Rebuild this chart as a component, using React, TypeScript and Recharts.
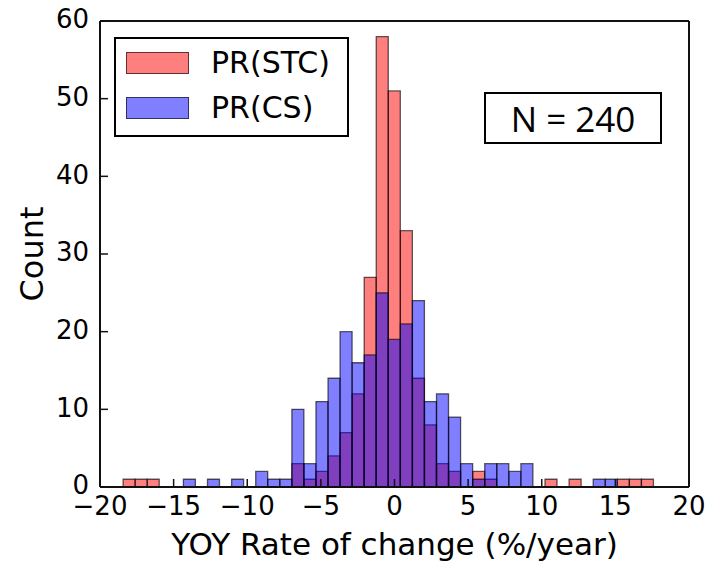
import React from "react";
import { BarChart, Bar, XAxis, YAxis, Legend } from "recharts";

// histogram binning shared by both series
const binStart = -18.43;
const binWidth = 0.8186;

// counts per bin, left to right (44 bins)
const stcCounts = [
  1, 1, 1, 0, 0, 0, 0, 0, 0, 0, 0, 0, 0, 0,
  3, 1, 2, 4, 7, 12, 27, 58, 51, 33, 14, 8, 3, 2,
  0, 2, 1, 0, 0, 0, 0, 1, 0, 1, 0, 0, 0, 1, 1, 1,
];
const csCounts = [
  0, 0, 0, 0, 0, 1, 0, 1, 0, 1, 0, 2, 1, 1,
  10, 3, 11, 14, 20, 16, 17, 25, 19, 21, 24, 11, 12, 9,
  3, 1, 3, 3, 2, 3, 0, 0, 0, 0, 0, 1, 1, 0, 0, 0,
];

const xTicks = [-20, -15, -10, -5, 0, 5, 10, 15, 20];
const yTicks = [0, 10, 20, 30, 40, 50, 60];
const sampleSize = 240;
const seriesOrder = ["stc", "cs"];

const data = stcCounts.map((stc, i) => ({
  rate: +(binStart + (i + 0.5) * binWidth).toFixed(4),
  stc,
  cs: csCounts[i],
}));

const FONT = "DejaVu Sans";
const xTickStyle = { fontSize: 26, fill: "#000", fontFamily: FONT };
const yTickStyle = { ...xTickStyle, dy: -2 };
const axisLine = { stroke: "#111", strokeWidth: 2 };
const tickLine = { stroke: "#111", strokeWidth: 1.5 };
const edge = "rgba(0, 0, 0, 0.62)";

const fmt = (v: number) => (v < 0 ? `\u2212${-v}` : `${v}`);

const renderLegend = (props: any) => {
  // keep the legend in plotting order (Recharts sorts it by name)
  const items = [...props.payload].sort(
    (a: any, b: any) => seriesOrder.indexOf(a.dataKey) - seriesOrder.indexOf(b.dataKey)
  );
  return (
    <div
      style={{
        border: "2px solid #000",
        background: "#fff",
        width: 235,
        height: 100,
        boxSizing: "border-box",
        padding: "1px 0 0 10px",
        fontFamily: FONT,
        fontSize: 30,
        color: "#000",
      }}
    >
      {items.map((entry: any) => (
        <div
          key={entry.value}
          style={{ display: "flex", alignItems: "center", height: 45 }}
        >
          <span
            style={{
              width: 63,
              height: 22,
              boxSizing: "border-box",
              background: entry.color,
              border: `1px solid ${edge}`,
            }}
          />
          <span style={{ marginLeft: 22 }}>{entry.value}</span>
        </div>
      ))}
    </div>
  );
};

export default function App() {
  return (
    <div style={{ position: "absolute", left: 0, top: 0, width: 710, height: 562 }}>
      <BarChart
        width={710}
        height={562}
        data={data}
        margin={{ top: 20, right: 20, left: 0, bottom: 0 }}
        barCategoryGap={0}
        barGap={0}
      >
        <XAxis
          xAxisId="bottom"
          dataKey="rate"
          type="number"
          domain={[-20, 20]}
          ticks={xTicks}
          tickFormatter={fmt}
          tick={xTickStyle}
          tickSize={-8}
          tickMargin={18}
          axisLine={axisLine}
          tickLine={tickLine}
          height={75}
          label={{
            value: "YOY Rate of change (%/year)",
            position: "insideBottom",
            offset: 7,
            fill: "#000",
            fontSize: 31,
            fontFamily: FONT,
          }}
        />
        <XAxis
          xAxisId="top"
          orientation="top"
          dataKey="rate"
          type="number"
          domain={[-20, 20]}
          ticks={xTicks}
          tick={false}
          tickSize={-8}
          axisLine={axisLine}
          tickLine={tickLine}
          height={1}
        />
        <YAxis
          yAxisId="left"
          type="number"
          domain={[0, 60]}
          ticks={yTicks}
          tick={yTickStyle}
          tickSize={-8}
          tickMargin={19}
          axisLine={axisLine}
          tickLine={tickLine}
          width={100}
          label={{
            value: "Count",
            angle: -90,
            position: "insideLeft",
            offset: 32,
            fill: "#000",
            fontSize: 32,
            fontFamily: FONT,
            style: { textAnchor: "middle" },
          }}
        />
        <YAxis
          yAxisId="right"
          orientation="right"
          type="number"
          domain={[0, 60]}
          ticks={yTicks}
          tick={false}
          tickSize={-8}
          axisLine={axisLine}
          tickLine={tickLine}
          width={1}
        />
        <Bar
          xAxisId="bottom"
          yAxisId="left"
          dataKey="stc"
          name="PR(STC)"
          fill="rgba(255, 0, 0, 0.5)"
          stroke={edge}
          strokeWidth={1.3}
          isAnimationActive={false}
        />
        <Bar
          xAxisId="top"
          yAxisId="left"
          dataKey="cs"
          name="PR(CS)"
          fill="rgba(0, 0, 255, 0.5)"
          stroke={edge}
          strokeWidth={1.3}
          isAnimationActive={false}
        />
        <Legend
          layout="horizontal"
          verticalAlign="middle"
          align="center"
          content={renderLegend}
          wrapperStyle={{ left: 114, top: 37, width: 235, height: 100 }}
        />
      </BarChart>
      <div
        style={{
          position: "absolute",
          left: 484,
          top: 92,
          width: 178,
          height: 52,
          boxSizing: "border-box",
          border: "2px solid #000",
          background: "#fff",
          display: "flex",
          alignItems: "center",
          justifyContent: "center",
          fontFamily: "Open Sans",
          fontSize: 35,
          color: "#000",
        }}
      >
        N = {sampleSize}
      </div>
    </div>
  );
}
